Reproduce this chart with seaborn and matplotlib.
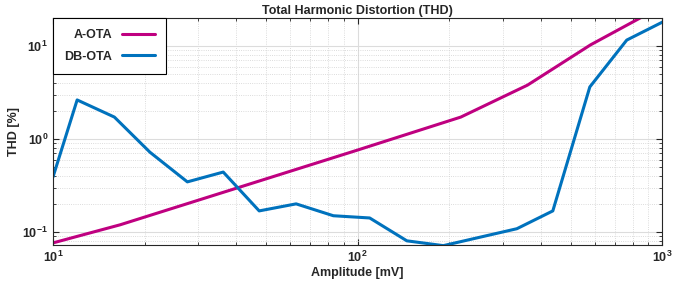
import matplotlib
matplotlib.use("Agg")
import matplotlib.pyplot as plt
import seaborn as sns
import pandas as pd

# Amplitud [mV] y THD [%]
amp_a = [10, 16.6, 100, 218, 361, 581, 832, 1000]
thd_a = [0.076, 0.119, 0.76, 1.72, 3.8, 10.3, 19.5, 27]

amp_db = [10, 12.0, 15.9, 20.8, 27.6, 36.2, 47.5, 62.8, 83.2, 109.5, 145, 191,
          333, 437, 578, 764, 1000]
thd_db = [0.39, 2.63, 1.72, 0.72, 0.345, 0.44, 0.168, 0.2, 0.149, 0.141, 0.080,
          0.071, 0.108, 0.168, 3.63, 11.6, 18.1]

sns.set_style("ticks")
plt.rcParams['font.family'] = ['Liberation Sans', 'DejaVu Sans']
plt.rcParams['font.weight'] = 'bold'
plt.rcParams['mathtext.default'] = 'bf'

df_a = pd.DataFrame({'amp': amp_a, 'thd': thd_a})
df_db = pd.DataFrame({'amp': amp_db, 'thd': thd_db})

fig = plt.figure(figsize=(6.94, 2.83), dpi=100)
ax = fig.add_axes([0.0764, 0.134, 0.878, 0.802])

sns.lineplot(data=df_a, x='amp', y='thd', ax=ax, color='#BF0080', lw=2.2,
             label='A-OTA', sort=False)
sns.lineplot(data=df_db, x='amp', y='thd', ax=ax, color='#0072BD', lw=2.2,
             label='DB-OTA', sort=False)

ax.set_xscale('log')
ax.set_yscale('log')
ax.set_xlim(10, 1000)
ax.set_ylim(0.072, 20)

ax.grid(True, which='major', color='#DCDCDC', lw=0.8)
ax.grid(True, which='minor', color='#D0D0D0', lw=0.6, ls=':')
ax.tick_params(which='both', direction='in', top=True, right=True,
               colors='#262626', labelsize=9)
ax.tick_params(which='major', length=4)
ax.tick_params(which='minor', length=2.5)
for s in ax.spines.values():
    s.set_color('#262626')
    s.set_linewidth(0.8)

ax.set_title('Total Harmonic Distortion (THD)', fontsize=9, fontweight='bold',
             pad=3)
ax.set_xlabel('Amplitude [mV]', fontsize=9, fontweight='bold', labelpad=1)
ax.set_ylabel('THD [%]', fontsize=9, fontweight='bold', labelpad=2)

leg = ax.legend(loc='upper left', markerfirst=False, fancybox=False,
                framealpha=1, edgecolor='black', fontsize=9,
                handlelength=2.6, borderpad=0.9, labelspacing=0.75,
                borderaxespad=0, handletextpad=0.8)
leg.get_frame().set_linewidth(0.8)
for t in leg.get_texts():
    t.set_fontweight('bold')

plt.savefig('out.png', dpi=100)
